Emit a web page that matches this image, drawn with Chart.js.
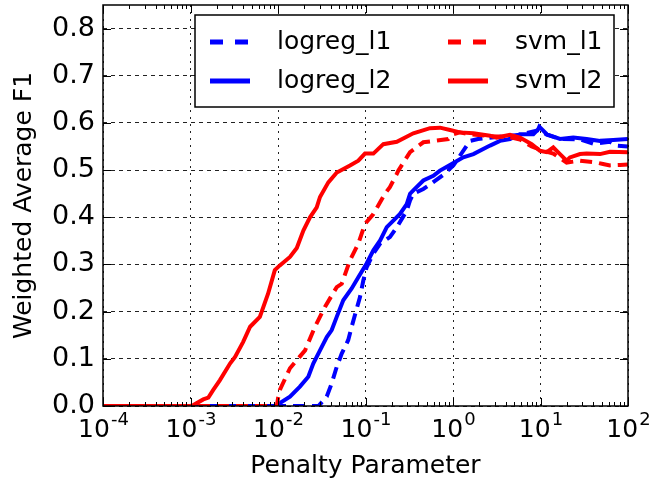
<!DOCTYPE html>
<html>
<head>
<meta charset="utf-8">
<script src="https://cdn.jsdelivr.net/npm/chart.js@4/dist/chart.umd.min.js"></script>
<style>
  html, body { margin: 0; padding: 0; background: #fff; }
  #wrap { width: 670px; height: 484px; }
</style>
</head>
<body>
<div id="wrap"><canvas id="myChart"></canvas></div>
<script>
// 軸の目盛り
const xTickValues = [1e-4, 1e-3, 1e-2, 1e-1, 1e0, 1e1, 1e2];
const xTickExponents = ["-4", "-3", "-2", "-1", "0", "1", "2"];
const yTickValues = [0, 0.1, 0.2, 0.3, 0.4, 0.5, 0.6, 0.7, 0.8];

// logreg_l1 (青・破線)
const logregL1C = [1e-4, 0.029, 0.0361, 0.0411, 0.0469, 0.0535, 0.0635, 0.0695, 0.0865, 0.0944,
  0.103, 0.123, 0.147, 0.19, 0.228, 0.296, 0.323, 0.352, 0.458, 0.522, 0.774, 1.01, 1.10,
  1.56, 1.93, 3.16, 5.83, 9.69, 11.8, 16.7, 28.3, 39.8, 62.2, 74.3, 100];
const logregL1F1 = [0, 0, 0.02, 0.048, 0.083, 0.111, 0.14, 0.168, 0.231, 0.266,
  0.294, 0.323, 0.344, 0.358, 0.379, 0.414, 0.436, 0.45, 0.46, 0.467, 0.49, 0.51, 0.52,
  0.562, 0.566, 0.57, 0.575, 0.585, 0.575, 0.566, 0.565, 0.556, 0.56, 0.552, 0.55];

// logreg_l2 (青・実線)
const logregL2C = [1e-4, 0.0097, 0.0105, 0.0137, 0.0178, 0.0222, 0.0253, 0.0302, 0.0361, 0.0411,
  0.0469, 0.0557, 0.0695, 0.0828, 0.103, 0.123, 0.147, 0.175, 0.208, 0.248, 0.296, 0.323,
  0.352, 0.458, 0.596, 0.71, 0.966, 1.31, 1.71, 2.65, 3.44, 4.48, 5.83, 8.28, 9.44, 9.69,
  11.8, 16.7, 23.7, 33.7, 47.9, 67.9, 100];
const logregL2F1 = [0, 0, 0.006, 0.02, 0.041, 0.062, 0.09, 0.118, 0.146, 0.161,
  0.189, 0.224, 0.249, 0.273, 0.302, 0.33, 0.351, 0.379, 0.393, 0.407, 0.428, 0.45,
  0.457, 0.478, 0.488, 0.499, 0.513, 0.527, 0.534, 0.552, 0.562, 0.566, 0.576, 0.576, 0.587, 0.592,
  0.576, 0.566, 0.569, 0.566, 0.562, 0.564, 0.566];

// svm_l1 (赤・破線)
const svmL1C = [1e-4, 0.0097, 0.0100, 0.0105, 0.0137, 0.0204, 0.0265, 0.0344, 0.0469, 0.0535,
  0.0665, 0.0828, 0.0986, 0.123, 0.167, 0.19, 0.228, 0.237, 0.323, 0.458, 0.883, 1.01,
  1.2, 1.56, 2.65, 4.48, 5.83, 7.93, 10.7, 14, 19.9, 28.3, 43.9, 51.8, 62.2, 81.1, 100];
const svmL1F1 = [0, 0, 0.016, 0.034, 0.08, 0.118, 0.168, 0.21, 0.252, 0.259,
  0.309, 0.344, 0.386, 0.407, 0.45, 0.464, 0.492, 0.499, 0.538, 0.559, 0.566, 0.576,
  0.58, 0.576, 0.572, 0.57, 0.565, 0.55, 0.541, 0.535, 0.516, 0.52, 0.516, 0.513, 0.51, 0.511, 0.512];

// svm_l2 (赤・実線)
const svmL2C = [1e-4, 1e-3, 1.08e-3, 1.4e-3, 1.6e-3, 1.82e-3, 2.17e-3, 2.83e-3, 3.23e-3, 4.0e-3,
  4.8e-3, 6.2e-3, 7.7e-3, 9.2e-3, 0.0105, 0.0137, 0.0164, 0.0195, 0.0232, 0.0277, 0.0302,
  0.0376, 0.047, 0.0665, 0.0828, 0.0986, 0.123, 0.16, 0.228, 0.352, 0.546, 0.71, 0.925,
  1.2, 1.71, 2.65, 3.16, 4.48, 5.83, 7.93, 9.87, 11.8, 14.0, 16.7, 19.9, 21.7, 28.3, 33.7,
  47.9, 62.2, 100];
const svmL2F1 = [0, 0, 0.002, 0.014, 0.018, 0.034, 0.055, 0.09, 0.104, 0.136,
  0.168, 0.189, 0.238, 0.288, 0.298, 0.316, 0.335, 0.372, 0.40, 0.421, 0.443,
  0.474, 0.495, 0.51, 0.52, 0.535, 0.535, 0.555, 0.56, 0.578, 0.589, 0.59, 0.585,
  0.58, 0.578, 0.573, 0.569, 0.575, 0.569, 0.555, 0.541, 0.538, 0.548, 0.534, 0.52, 0.527, 0.534, 0.535,
  0.534, 0.539, 0.538];

const FONT = "'DejaVu Sans', sans-serif";
const BLUE = "#0000ff";
const RED = "#ff0000";

const toPoints = (xs, ys) => xs.map((x, i) => ({ x: x, y: ys[i] }));

const data = {
  datasets: [{
    label: "logreg_l1",
    data: toPoints(logregL1C, logregL1F1),
    borderColor: BLUE,
    borderDash: [12, 7],
    order: 3,
  }, {
    label: "logreg_l2",
    data: toPoints(logregL2C, logregL2F1),
    borderColor: BLUE,
    order: 2,
  }, {
    label: "svm_l1",
    data: toPoints(svmL1C, svmL1F1),
    borderColor: RED,
    borderDash: [12, 7],
    order: 1,
  }, {
    label: "svm_l2",
    data: toPoints(svmL2C, svmL2F1),
    borderColor: RED,
    order: 0,
  }]
};

// 枠・内向きの目盛り・x 軸ラベル（10 の累乗）・凡例
const decorations = {
  id: "decorations",
  afterDraw(chart) {
    const { ctx, chartArea: a, scales } = chart;
    const xs = scales.x, ys = scales.y;
    ctx.save();
    ctx.strokeStyle = "#000";
    ctx.lineWidth = 1;

    // 目盛り
    ctx.beginPath();
    xTickValues.forEach((v, k) => {
      const px = Math.round(xs.getPixelForValue(v)) + 0.5;
      ctx.moveTo(px, a.bottom); ctx.lineTo(px, a.bottom - 8);
      ctx.moveTo(px, a.top); ctx.lineTo(px, a.top + 8);
      if (k < xTickValues.length - 1) {
        for (let m = 2; m <= 9; m++) {
          const pm = Math.round(xs.getPixelForValue(v * m)) + 0.5;
          ctx.moveTo(pm, a.bottom); ctx.lineTo(pm, a.bottom - 4);
          ctx.moveTo(pm, a.top); ctx.lineTo(pm, a.top + 4);
        }
      }
    });
    yTickValues.forEach(v => {
      const py = Math.round(ys.getPixelForValue(v)) + 0.5;
      ctx.moveTo(a.left, py); ctx.lineTo(a.left + 8, py);
      ctx.moveTo(a.right, py); ctx.lineTo(a.right - 8, py);
    });
    ctx.stroke();

    // 枠
    ctx.lineWidth = 1.5;
    ctx.strokeRect(a.left, a.top, a.right - a.left, a.bottom - a.top);

    // x 軸ラベル
    ctx.fillStyle = "#000";
    ctx.textBaseline = "alphabetic";
    ctx.textAlign = "left";
    xTickValues.forEach((v, k) => {
      const px = xs.getPixelForValue(v);
      const exp = xTickExponents[k];
      ctx.font = "25px " + FONT;
      const wBase = ctx.measureText("10").width;
      ctx.font = "18px " + FONT;
      const wExp = ctx.measureText(exp).width;
      const x0 = px - (wBase + wExp) / 2;
      ctx.font = "25px " + FONT;
      ctx.fillText("10", x0, 437);
      ctx.font = "18px " + FONT;
      ctx.fillText(exp, x0 + wBase + 1, 425);
    });

    // 凡例
    const box = { left: 195, top: 15, right: 614, bottom: 107 };
    ctx.fillStyle = "#fff";
    ctx.fillRect(box.left, box.top, box.right - box.left, box.bottom - box.top);
    ctx.lineWidth = 1.5;
    ctx.strokeRect(box.left, box.top, box.right - box.left, box.bottom - box.top);
    const cols = [{ line: 210, text: 277 }, { line: 448, text: 515 }];
    const rows = [42, 81];
    chart.data.datasets.forEach((ds, i) => {
      const c = cols[Math.floor(i / 2)], y = rows[i % 2];
      ctx.strokeStyle = ds.borderColor;
      ctx.lineWidth = 5;
      ctx.setLineDash(ds.borderDash ? [13, 12] : []);
      ctx.beginPath();
      ctx.moveTo(c.line, y); ctx.lineTo(c.line + 40, y);
      ctx.stroke();
      ctx.setLineDash([]);
      ctx.fillStyle = "#000";
      ctx.font = "25px " + FONT;
      ctx.textBaseline = "middle";
      ctx.fillText(ds.label, c.text, y);
    });
    ctx.restore();
  }
};

const config = {
  type: "line",
  data: data,
  plugins: [decorations],
  options: {
    responsive: true,
    maintainAspectRatio: false,
    animation: false,
    events: [],
    layout: { padding: { top: 5, right: 42, left: 0, bottom: 0 } },
    elements: {
      line: { borderWidth: 4, tension: 0, fill: false, borderCapStyle: "butt" },
      point: { radius: 0 }
    },
    plugins: {
      legend: { display: false },
      tooltip: { enabled: false }
    },
    scales: {
      x: {
        type: "logarithmic",
        min: 1e-4,
        max: 100,
        afterBuildTicks: s => { s.ticks = xTickValues.map(v => ({ value: v })); },
        afterFit: s => { s.height = 78; s.paddingLeft = 0; s.paddingRight = 0; },
        ticks: { display: false },
        grid: { color: "#222", lineWidth: 1, drawTicks: false },
        border: { display: false, dash: [2, 5] },
        title: {
          display: true,
          text: "Penalty Parameter",
          color: "#000",
          font: { family: FONT, size: 25 },
          padding: { top: 0, bottom: 3 }
        }
      },
      y: {
        type: "linear",
        min: 0,
        max: 0.85,
        afterBuildTicks: s => { s.ticks = yTickValues.map(v => ({ value: v })); },
        afterFit: s => { s.width = 103; s.paddingTop = 0; s.paddingBottom = 0; },
        ticks: {
          color: "#000",
          padding: 8,
          font: { family: FONT, size: 27 },
          callback: v => v.toFixed(1)
        },
        grid: { color: "#222", lineWidth: 1, drawTicks: false },
        border: { display: false, dash: [4, 4] },
        title: {
          display: true,
          text: "Weighted Average F1",
          color: "#000",
          font: { family: FONT, size: 25 },
          padding: { top: 9, bottom: 0 }
        }
      }
    }
  }
};

const ctx = document.getElementById("myChart");
const myChart = new Chart(ctx, config);
</script>
</body>
</html>
